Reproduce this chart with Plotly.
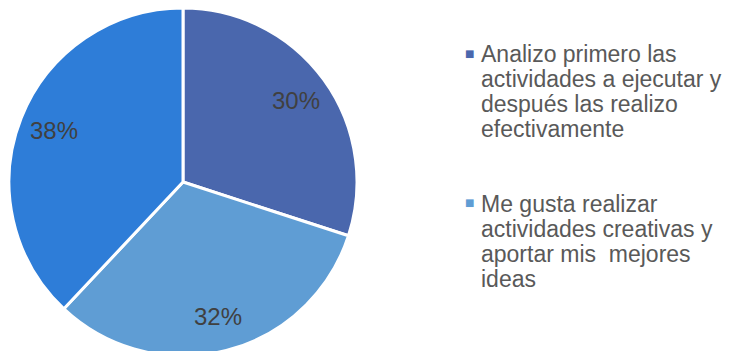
import math
import plotly.graph_objects as go

# Survey answers (share of respondents)
categories = [
    "Analizo primero las actividades a ejecutar y después las realizo efectivamente",
    "Me gusta realizar actividades creativas y aportar mis  mejores ideas",
    "Otra",
]
values = [30, 32, 38]
colors = ["#4a67ad", "#5f9dd4", "#2e7dd8"]

# Legend lines as they wrap next to the chart
legend_lines = [
    ["Analizo primero las", "actividades a ejecutar y", "después las realizo", "efectivamente"],
    ["Me gusta realizar", "actividades creativas y", "aportar mis  mejores", "ideas"],
]

W, H = 733, 362          # canvas a bit taller than the view so the pie bottom is clipped
CX, CY, R = 183, 182, 174  # pie centre / radius in pixels

FONT = "Liberation Sans, Arial, sans-serif"

fig = go.Figure(
    go.Pie(
        labels=categories,
        values=values,
        sort=False,
        direction="clockwise",
        rotation=0,
        marker=dict(colors=colors, line=dict(color="white", width=3)),
        textinfo="none",
        domain=dict(x=[(CX - R) / W, (CX + R) / W],
                    y=[1 - (CY + R) / H, 1 - (CY - R) / H]),
        showlegend=False,
        hoverinfo="label+percent",
    )
)

annotations = []

# Percentage labels placed along each slice's bisector
total = sum(values)
start = 0.0
for v in values:
    mid = (start + v / 2) / total * 2 * math.pi
    start += v
    px = CX + 0.80 * R * math.sin(mid)
    py = CY - 0.80 * R * math.cos(mid)
    annotations.append(dict(
        x=px / W, y=1 - py / H, xref="paper", yref="paper",
        xanchor="center", yanchor="middle", showarrow=False,
        text=f"{round(v / total * 100)}%",
        font=dict(family=FONT, size=24, color="#404040"),
    ))

# Legend blocks
legend_tops = [54, 204]
line_step = 25
for block, top, col in zip(legend_lines, legend_tops, colors):
    annotations.append(dict(
        x=469 / W, y=1 - (top - 1) / H, xref="paper", yref="paper",
        xanchor="center", yanchor="middle", showarrow=False,
        text="■", font=dict(family="DejaVu Sans", size=10, color=col),
    ))
    for i, line in enumerate(block):
        annotations.append(dict(
            x=479 / W, y=1 - (top + i * line_step) / H, xref="paper", yref="paper",
            xanchor="left", yanchor="middle", showarrow=False,
            text=line,
            font=dict(family=FONT, size=23, color="#595959"),
        ))

fig.update_layout(
    width=W, height=H,
    margin=dict(l=0, r=0, t=0, b=0),
    paper_bgcolor="white", plot_bgcolor="white",
    annotations=annotations,
)

fig.write_html(
    "out.html",
    post_script="document.documentElement.style.overflow='hidden';"
                "document.body.style.overflow='hidden';document.body.style.margin='0';",
)
